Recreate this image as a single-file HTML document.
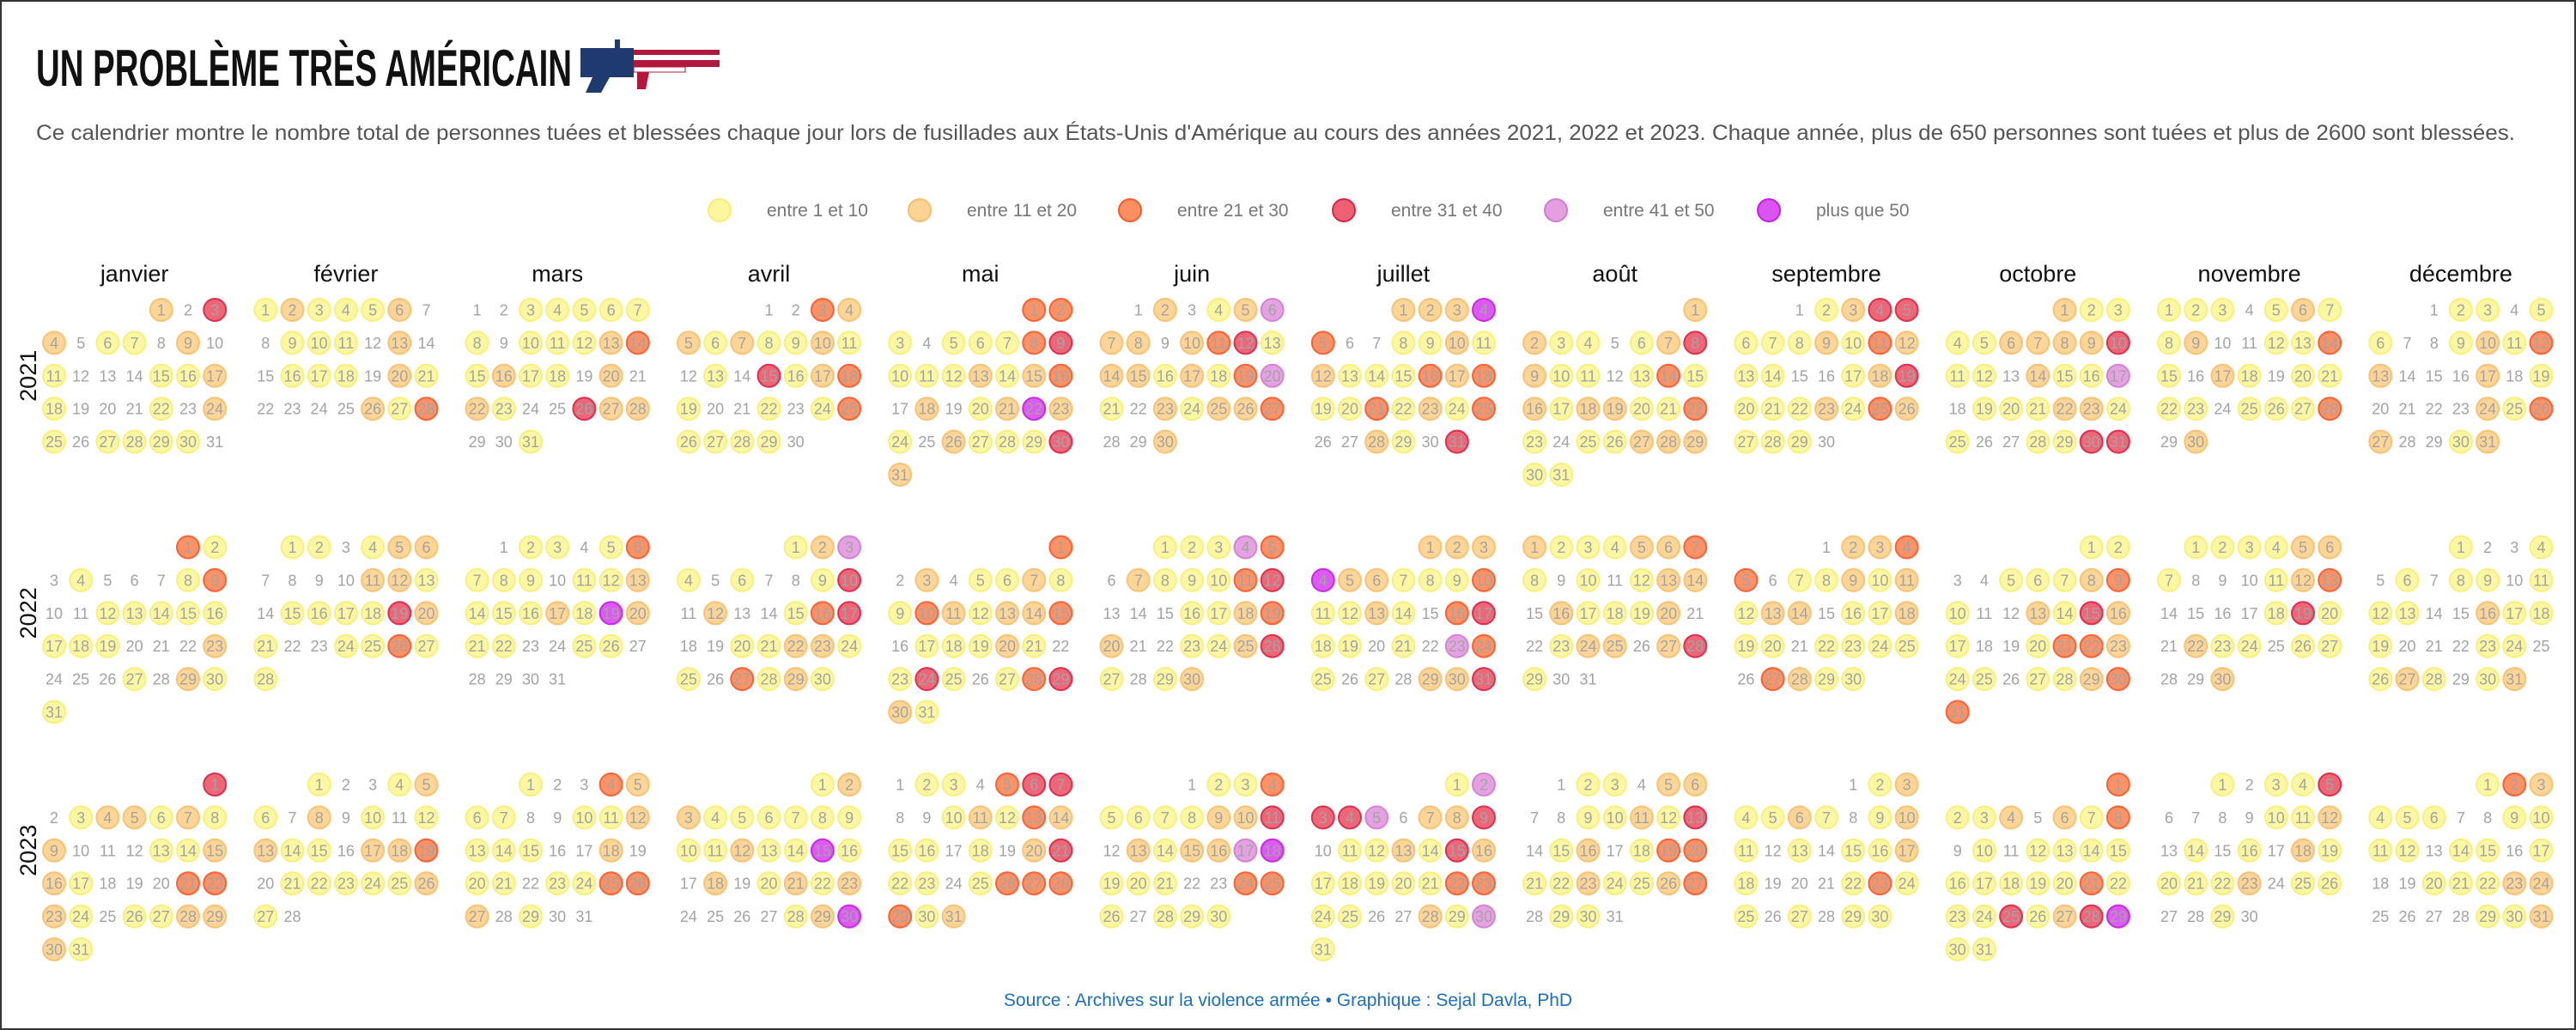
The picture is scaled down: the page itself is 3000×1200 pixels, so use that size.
<!DOCTYPE html>
<html><head><meta charset="utf-8"><style>
html,body{margin:0;padding:0;background:#fff}
svg{display:block}
</style></head><body>
<svg id="chart" width="3000" height="1200" viewBox="0 0 3000 1200" xmlns="http://www.w3.org/2000/svg" font-family="Liberation Sans, sans-serif">
<rect x="1" y="1" width="2998" height="1198" fill="#fff" stroke="#333" stroke-width="2"/>
<text x="42" y="100" font-size="60" font-weight="bold" fill="#111" textLength="624" lengthAdjust="spacingAndGlyphs">UN PROBLÈME TRÈS AMÉRICAIN</text>
<g>
<rect x="676" y="56" width="62" height="34" fill="#1f3a6e"/>
<rect x="738" y="58" width="100" height="6" fill="#b2183c"/>
<rect x="738" y="64" width="100" height="6" fill="#fff"/>
<rect x="738" y="70" width="100" height="8" fill="#b2183c"/>
<rect x="738" y="78" width="60" height="6" fill="#fff" stroke="#b2183c" stroke-width="1"/>
<polygon points="690,90 710,90 700,108 682,108" fill="#1f3a6e"/>
<polygon points="742,84 756,84 752,104 742,104" fill="#b2183c"/>
<rect x="716" y="46" width="6" height="10" fill="#1f3a6e"/>
</g>
<text x="42" y="163" font-size="25" fill="#555" textLength="2887" lengthAdjust="spacingAndGlyphs">Ce calendrier montre le nombre total de personnes tuées et blessées chaque jour lors de fusillades aux États-Unis d'Amérique au cours des années 2021, 2022 et 2023. Chaque année, plus de 650 personnes sont tuées et plus de 2600 sont blessées.</text>
<g id="legend"></g>
<g id="months"></g>
<g id="years"></g>
<g id="cells"></g>
<text x="1500" y="1172" font-size="21" fill="#1a6fc4" text-anchor="middle">Source : Archives sur la violence armée • Graphique : Sejal Davla, PhD</text>
</svg>
<script>
const years = [2021, 2022, 2023];
const monthNames = ["janvier","février","mars","avril","mai","juin","juillet","août","septembre","octobre","novembre","décembre"];
const legendLabels = ["entre 1 et 10","entre 11 et 20","entre 21 et 30","entre 31 et 40","entre 41 et 50","plus que 50"];
const data2021 = ["2042011020100011210001021011110","1211120011102001110210000213","0011111101112312110202100422001","003221211210104123100101311110","3310111341112123020126210211142","020125220234122121351021223002","2226300112121113231131213002104","2211012421101312122113101122211","012441112132110012411121321110","2111122224110211501112211001144","111012112001131021011110111302","0110110012132000201000021320012"];
const data2022 = ["3101000130011111111000200010211","1101220000221011114210011311","0110131110112111216211001100000","125101001402001340011221103121","3020112113212230111210141013421","111530211134000112320011241012","2226221113112103411010531010224","2111223101012202111200122024100","022330112121220112110111103211","1100111231002142100133211011233","111122100012300001410211011002","1001010110111002111000110121012"];
const data2023 = ["4012212120001122100033210112221","1001210201012110223011111210","1003211001121110020110113320100","122111111112116102012120000126","0110344001213211010241101333312","011311112240212256111003310111","1544502240112142111113311002151","0110220011214012013311211230110","012112101210101121000131101011","3112021301011111111131114124611","101140000112010102111120110010","1321110011110110100111220000112"];
const yearData = [data2021, data2022, data2023];
const fills = ["none","#fbf58e","#fdcd80","#fc7a45","#e9455c","#df8edc","#d536ef"];
const strokes = ["none","#f7ee70","#f8be6a","#f55a2a","#d92444","#d27bd0","#c41ee0"];
const NS = "http://www.w3.org/2000/svg";
const x0 = 63, monthPitch = 246.3, colW = 31.2, rowH = 38.4, r = 13;
const yearY = [361, 637.5, 914];
function mk(tag, attrs){const e=document.createElementNS(NS,tag);for(const k in attrs)e.setAttribute(k,attrs[k]);return e;}

const legend = document.getElementById('legend');
const legX = [838,1071,1316,1565,1812,2060];
legendLabels.forEach((lab,i)=>{
  const c = mk('circle',{cx:legX[i],cy:245,r:13,fill:fills[i+1],stroke:strokes[i+1],'stroke-width':2,'fill-opacity':0.85});
  
  
  legend.appendChild(c);
  const t = mk('text',{x:legX[i]+55,y:252,'font-size':21,fill:'#777'});
  
  
  t.textContent = lab; legend.appendChild(t);
});

const months = document.getElementById('months');
monthNames.forEach((m,i)=>{
  const t = mk('text',{x:x0+i*monthPitch+3*colW,y:328,'font-size':27,fill:'#111','text-anchor':'middle'});
  
  
  t.textContent = m; months.appendChild(t);
});

const yg = document.getElementById('years');
years.forEach((y,i)=>{
  const cy = yearY[i] + 2*rowH;
  const t = mk('text',{x:0,y:0,'font-size':27,fill:'#111','text-anchor':'middle',transform:`translate(42 ${cy}) rotate(-90)`});
  
  
  t.textContent = y; yg.appendChild(t);
});

const cells = document.getElementById('cells');
years.forEach((yr,yi)=>{
  yearData[yi].forEach((s,mi)=>{
    const off = (new Date(yr, mi, 1).getDay()+6)%7;
    for(let d=1; d<=s.length; d++){
      const k = +s[d-1];
      const idx = d-1+off;
      const cx = x0 + mi*monthPitch + (idx%7)*colW;
      const cy = yearY[yi] + Math.floor(idx/7)*rowH;
      if(k>0){
        const c = mk('circle',{cx:cx,cy:cy,r:r,fill:fills[k],stroke:strokes[k],'stroke-width':2,'fill-opacity':0.82,'stroke-opacity':0.9});
        
        
        cells.appendChild(c);
      }
      const t = mk('text',{x:cx,y:cy+6.5,'font-size':18,fill:'#a3a3a3','text-anchor':'middle'});
      
      
      t.textContent = d; cells.appendChild(t);
    }
  });
});
</script>
</body></html>
